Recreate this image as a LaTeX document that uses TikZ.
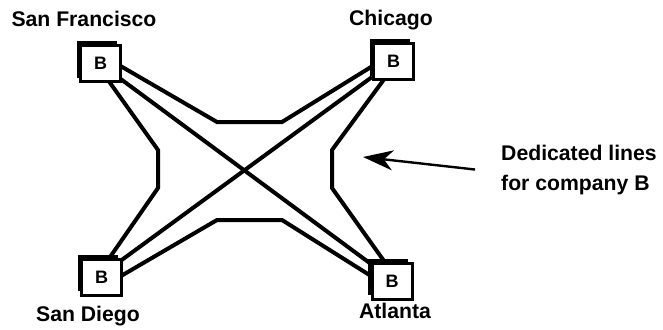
\documentclass[tikz,border=0pt]{standalone}
\usepackage{fontspec}
\setmainfont{Liberation Sans}
\usetikzlibrary{shadows,arrows.meta,backgrounds}
\begin{document}
\begin{tikzpicture}[x=1pt,y=-1pt,
  bbox/.style={draw, line width=3pt, fill=white, minimum width=40pt, minimum height=36pt, inner sep=0pt,
    font=\bfseries\fontsize{18}{18}\selectfont,
    general shadow={fill=black, shadow xshift=-4pt, shadow yshift=4pt}},
  route/.style={line width=4pt, line join=miter},
  lbl/.style={font=\bfseries\fontsize{21.2}{30}\selectfont, inner sep=0pt},
  pointer/.style={line width=2.4pt, -{Stealth[length=30pt, width=20pt, inset=9pt]}}]
\useasboundingbox (0,0) rectangle (663,329);
% boxes
\node[bbox] (sf) at (100.5,63.5) {B};
\node[bbox] (ch) at (393.5,61.5) {B};
\node[bbox] (sd) at (101.5,277) {B};
\node[bbox] (at) at (392,281) {B};
% routes
\begin{scope}[on background layer]
\draw[route] ([xshift=20pt,yshift=-2.5pt]sf.center) -- (217,122) -- (282,122) -- ([xshift=-22.5pt,yshift=-5.5pt]ch.center);
\draw[route] ([xshift=19.5pt,yshift=-15pt]sf.center) -- ([xshift=-21pt,yshift=17pt]at.center);
\draw[route] ([xshift=19.5pt,yshift=16.5pt]sd.center) -- ([xshift=-21.5pt,yshift=-15.5pt]ch.center);
\draw[route] ([xshift=7.5pt,yshift=-16.5pt]sf.center) -- (158,150) -- (158,188) -- ([xshift=6.5pt,yshift=17pt]sd.center);
\draw[route] ([xshift=-8.5pt,yshift=-16.5pt]ch.center) -- (332,150) -- (332,188) -- ([xshift=-8pt,yshift=20pt]at.center);
\draw[route] ([xshift=19.5pt,yshift=1pt]sd.center) -- (217,220) -- (282,220) -- ([xshift=-21pt,yshift=5pt]at.center);
\end{scope}
% labels
\node[lbl, anchor=base] (sfl) at (84,27) {San Francisco};
\node[lbl, anchor=base] (chl) at (391,26) {Chicago};
\node[lbl, anchor=base] (sdl) at (88,321) {San Diego};
\node[lbl, anchor=base] (atl) at (395,318) {Atlanta};
\node[lbl, anchor=base west, align=left] (dl) at (501,190) {Dedicated lines\\for company B};
\coordinate (tip) at (363,157);
\draw[pointer] ([xshift=-26pt]dl.west) -- (tip);
\end{tikzpicture}
\end{document}
